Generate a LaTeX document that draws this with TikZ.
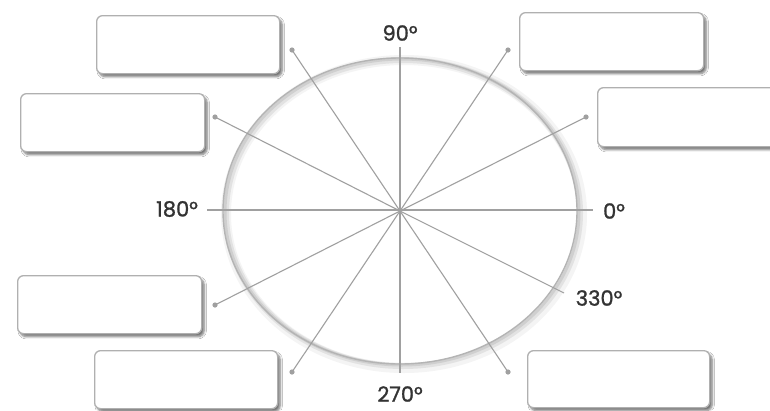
\documentclass[tikz,border=0pt]{standalone}
\usepackage{fontspec}
\setmainfont{Poppins}
\newfontfamily\degfont{Poppins}[FakeBold=1.2]
\usetikzlibrary{shadows.blur}
\definecolor{linegray}{HTML}{A0A0A0}
\definecolor{boxgray}{HTML}{B0B0B0}
\definecolor{txtgray}{HTML}{333333}
\definecolor{circgray}{HTML}{B4B4B4}
\tikzset{
  answerbox/.style={draw=boxgray, line width=1.3pt, rounded corners=6pt, fill=white,
    minimum width=183pt, minimum height=58pt, anchor=north west, inner sep=0pt,
    blur shadow={shadow xshift=2.5pt, shadow yshift=-3pt, shadow blur steps=6, shadow opacity=55}},
  spoke/.style={draw=linegray, line width=1.1pt},
  dotmark/.style={fill=linegray},
  deg/.style={text=txtgray, font=\degfont\fontsize{21pt}{23pt}\selectfont, inner sep=0pt}
}
\begin{document}
\begin{tikzpicture}[x=1pt, y=-1pt]
\useasboundingbox (0,0) rectangle (770,410);
\clip (0,0) rectangle (770,410);
\fill[white] (0,0) rectangle (770,410);
% centre of the dial
\coordinate (c) at (400,211);
% circle with soft shadow
\draw[black!60, opacity=0.07, line width=10pt] ([shift={(4,3)}]c) ellipse [x radius=178pt, y radius=154pt];
\draw[black!60, opacity=0.12, line width=6pt] ([shift={(3,2)}]c) ellipse [x radius=177pt, y radius=153pt];
\draw[black!60, opacity=0.15, line width=3pt] ([shift={(2,1)}]c) ellipse [x radius=177pt, y radius=153pt];
\draw[circgray, line width=1.4pt] (c) ellipse [x radius=177pt, y radius=153pt];
% answer boxes
\node[answerbox] (b1) at (96,15) {};
\node[answerbox, minimum width=184pt] (b2) at (20,93) {};
\node[answerbox, minimum width=184pt] (b3) at (519,12) {};
\node[answerbox, minimum width=190pt, minimum height=59pt] (b4) at (597,87) {};
\node[answerbox, minimum width=184pt] (b5) at (17,275) {};
\node[answerbox] (b6) at (94,350) {};
\node[answerbox, minimum width=182pt, minimum height=57pt] (b7) at (527,350) {};
% spoke ends
\coordinate (d1) at (292,50);
\coordinate (d2) at (508,50);
\coordinate (d3) at (586,117);
\coordinate (d4) at (215,117);
\coordinate (d5) at (215,305);
\coordinate (d6) at (508,372);
\coordinate (d7) at (292,372);
\coordinate (e330) at (564,293);
\coordinate (t90) at (400,47);
\coordinate (t270) at (400,373);
\coordinate (t180) at (207,210);
\coordinate (t0) at (593,210);
% labels
\node[deg] (l90) at (400,33) {90°};
\node[deg] (l270) at (400,394) {270°};
\node[deg] (l180) at (177,209) {180°};
\node[deg] (l0) at (614,211) {0°};
\node[deg] (l330) at (599,298) {330°};
% spokes
\draw[spoke] (t90) -- (t270);
\draw[spoke] (t180) -- (t0);
\draw[spoke] (d1) -- (c) -- (d6);
\draw[spoke] (d2) -- (c) -- (d7);
\draw[spoke] (d3) -- (c) -- (d5);
\draw[spoke] (d4) -- (c) -- (e330);
% dots
\foreach \d in {d1,d2,d3,d4,d5,d6,d7}
  \fill[dotmark] (\d) circle (2.6pt);
\end{tikzpicture}
\end{document}
